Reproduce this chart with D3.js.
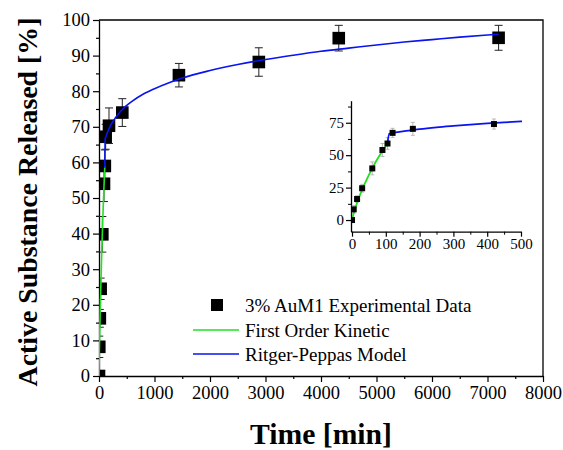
<!DOCTYPE html>
<html>
<head>
<meta charset="utf-8">
<script src="https://cdn.jsdelivr.net/npm/d3@7"></script>
<style>
  html, body { margin: 0; padding: 0; background: #fff; }
  svg { display: block; }
</style>
</head>
<body>
<svg id="chart" width="563" height="450"></svg>
<script>
// Release measurements: time (min), released amount (%), standard deviation
const times    = [0, 5, 15, 30, 60, 90, 105, 120, 180, 420, 1440, 2880, 4320, 7200];
const released = [0, 8.2, 16.2, 24.5, 39.8, 54.0, 59.0, 67.2, 70.3, 74.0, 84.5, 88.2, 94.9, 95.0];
const stdDev   = [0.5, 3, 2.5, 3, 5, 5, 4.5, 3.5, 5, 3.9, 3.3, 4, 3.6, 3.5];

// First order kinetic fit curve (time, %)
const firstOrderT = [0, 5, 10, 15, 20, 30, 40, 50, 60, 70, 80, 90, 100, 105];
const firstOrderQ = [0, 5.5, 9.5, 13.5, 17.0, 23.5, 29.2, 34.8, 39.8, 44.7, 49.2, 53.3, 57.1, 58.9];

// Ritger-Peppas fit curve (time, %)
const peppasT = [105, 110, 120, 140, 160, 180, 200, 250, 300, 350, 400, 450, 500, 600, 800, 1000,
                 1250, 1500, 2000, 2500, 3000, 3500, 4000, 4500, 5000, 5500, 6000, 6500, 7000, 7200];
const peppasQ = [58.5, 66.5, 67.0, 67.9, 68.7, 69.4, 70.1, 71.5, 72.6, 73.6, 74.5, 75.3, 76.0, 77.2, 79.2, 80.7,
                 82.3, 83.7, 85.8, 87.5, 88.9, 90.1, 91.2, 92.1, 93.0, 93.8, 94.5, 95.2, 95.8, 96.0];

const xTicksMain = [0, 1000, 2000, 3000, 4000, 5000, 6000, 7000, 8000];
const yTicksMain = [0, 10, 20, 30, 40, 50, 60, 70, 80, 90, 100];
const xTicksInset = [0, 100, 200, 300, 400, 500];
const yTicksInset = [0, 25, 50, 75];

const legendLabels = ["3% AuM1 Experimental Data", "First Order Kinetic", "Ritger-Peppas Model"];

const FONT = "'Liberation Serif', 'Times New Roman', 'DejaVu Serif', serif";
const GREEN = "#22e022";
const BLUE = "#0a14ee";

const svg = d3.select("#chart");
const pts = times.map((t, i) => ({ t, q: released[i], e: stdDev[i] }));
const fo = firstOrderT.map((t, i) => ({ t, q: firstOrderQ[i] }));
const rp = peppasT.map((t, i) => ({ t, q: peppasQ[i] }));

// ---------- main panel ----------
const L = 99, R = 543, T = 20, B = 376;
const x = d3.scaleLinear().domain([0, 8000]).range([L, R]);
const y = d3.scaleLinear().domain([0, 100]).range([B, T]);

svg.append("defs").append("clipPath").attr("id", "plotClip")
  .append("rect").attr("x", L).attr("y", T).attr("width", R - L).attr("height", B - T);

function styleAxis(g, fontSize) {
  g.attr("font-family", FONT);
  g.select(".domain").attr("stroke", "#000").attr("stroke-width", 1.3);
  g.selectAll(".tick line").attr("stroke", "#000").attr("stroke-width", 1.2);
  g.selectAll(".tick text").style("font-size", fontSize + "px").style("font-family", FONT).attr("fill", "#000");
}

// minor ticks
svg.append("g").attr("transform", `translate(0,${B})`)
  .call(d3.axisBottom(x).tickValues(d3.range(500, 8000, 1000)).tickSize(3).tickFormat(""))
  .call(g => { g.select(".domain").remove(); g.selectAll("line").attr("stroke", "#000").attr("stroke-width", 1.2); });
svg.append("g").attr("transform", `translate(${L},0)`)
  .call(d3.axisLeft(y).tickValues(d3.range(5, 100, 10)).tickSize(3).tickFormat(""))
  .call(g => { g.select(".domain").remove(); g.selectAll("line").attr("stroke", "#000").attr("stroke-width", 1.2); });

svg.append("g").attr("transform", `translate(0,${B})`)
  .call(d3.axisBottom(x).tickValues(xTicksMain).tickSize(6).tickSizeOuter(0).tickPadding(4).tickFormat(d3.format("d")))
  .call(g => styleAxis(g, 18.5));
svg.append("g").attr("transform", `translate(${L},0)`)
  .call(d3.axisLeft(y).tickValues(yTicksMain).tickSize(6).tickSizeOuter(0).tickPadding(3).tickFormat(d3.format("d")))
  .call(g => styleAxis(g, 18.5));

// top and right frame
svg.append("path")
  .attr("d", `M${L},${T}H${R}V${B}`)
  .attr("fill", "none").attr("stroke", "#000").attr("stroke-width", 1.3);

const mainLayer = svg.append("g").attr("clip-path", "url(#plotClip)");
const line = (xs, ys) => d3.line().x(d => xs(d.t)).y(d => ys(d.q)).curve(d3.curveMonotoneX);

// error bars
const eb = mainLayer.append("g").attr("stroke", "#222").attr("stroke-width", 1);
pts.forEach(d => {
  const cx = x(d.t);
  eb.append("line").attr("x1", cx).attr("x2", cx).attr("y1", y(d.q - d.e)).attr("y2", y(d.q + d.e));
  [d.q - d.e, d.q + d.e].forEach(v =>
    eb.append("line").attr("x1", cx - 4).attr("x2", cx + 4).attr("y1", y(v)).attr("y2", y(v)));
});

mainLayer.selectAll("rect.pt").data(pts).join("rect").attr("class", "pt")
  .attr("x", d => x(d.t) - 6.3).attr("y", d => y(d.q) - 6.3)
  .attr("width", 12.6).attr("height", 12.6).attr("fill", "#000");

mainLayer.append("path").datum(fo).attr("d", line(x, y))
  .attr("fill", "none").attr("stroke", GREEN).attr("stroke-width", 1.6);
mainLayer.append("path").datum(rp).attr("d", line(x, y))
  .attr("fill", "none").attr("stroke", BLUE).attr("stroke-width", 1.6);

// axis titles, sized to span their intended lengths
function fitTitle(sel, targetLen) {
  const len = sel.node().getComputedTextLength();
  const fs = parseFloat(sel.style("font-size"));
  sel.style("font-size", (fs * targetLen / len).toFixed(2) + "px");
}
const xTitle = svg.append("text").attr("x", 321).attr("y", 444).attr("text-anchor", "middle")
  .style("font-family", FONT).style("font-size", "28px").style("font-weight", "bold").text("Time [min]");
fitTitle(xTitle, 142);
const yTitle = svg.append("text").attr("transform", "translate(37,202) rotate(-90)").attr("text-anchor", "middle")
  .style("font-family", FONT).style("font-size", "28px").style("font-weight", "bold").text("Active Substance Released [%]");
fitTitle(yTitle, 369);

// legend
const lg = svg.append("g");
lg.append("rect").attr("x", 211).attr("y", 299).attr("width", 12).attr("height", 12).attr("fill", "#000");
lg.append("line").attr("x1", 193).attr("x2", 239).attr("y1", 330).attr("y2", 330).attr("stroke", GREEN).attr("stroke-width", 1.4);
lg.append("line").attr("x1", 193).attr("x2", 239).attr("y1", 354).attr("y2", 354).attr("stroke", BLUE).attr("stroke-width", 1.4);
[311.5, 336.5, 360.5].forEach((by, i) =>
  lg.append("text").attr("x", 245).attr("y", by)
    .style("font-family", FONT).style("font-size", "19px").text(legendLabels[i]));

// ---------- inset ----------
const xi = d3.scaleLinear().domain([-3, 500]).range([351, 521]);
const yi = d3.scaleLinear().domain([-9, 92]).range([231.7, 100.7]);

svg.append("defs").append("clipPath").attr("id", "insetClip")
  .append("rect").attr("x", 351).attr("y", 100).attr("width", 171).attr("height", 132);

svg.append("g").attr("transform", "translate(0,231.7)")
  .call(d3.axisBottom(xi).tickValues(d3.range(50, 500, 100)).tickSize(3).tickFormat(""))
  .call(g => { g.select(".domain").remove(); g.selectAll("line").attr("stroke", "#000"); });
svg.append("g").attr("transform", "translate(351,0)")
  .call(d3.axisLeft(yi).tickValues([12.5, 37.5, 62.5, 87.5]).tickSize(3).tickFormat(""))
  .call(g => { g.select(".domain").remove(); g.selectAll("line").attr("stroke", "#000"); });

svg.append("g").attr("transform", "translate(0,231.7)")
  .call(d3.axisBottom(xi).tickValues(xTicksInset).tickSize(5).tickSizeOuter(0).tickPadding(2).tickFormat(d3.format("d")))
  .call(g => styleAxis(g, 15));
svg.append("g").attr("transform", "translate(351,0)")
  .call(d3.axisLeft(yi).tickValues(yTicksInset).tickSize(5).tickSizeOuter(0).tickPadding(2).tickFormat(d3.format("d")))
  .call(g => styleAxis(g, 15));

const inset = svg.append("g").attr("clip-path", "url(#insetClip)");
const ebi = inset.append("g").attr("stroke", "#aaa").attr("stroke-width", 0.8);
pts.filter(d => d.t <= 500).forEach(d => {
  const cx = xi(d.t);
  ebi.append("line").attr("x1", cx).attr("x2", cx).attr("y1", yi(d.q - d.e)).attr("y2", yi(d.q + d.e));
  [d.q - d.e, d.q + d.e].forEach(v =>
    ebi.append("line").attr("x1", cx - 2).attr("x2", cx + 2).attr("y1", yi(v)).attr("y2", yi(v)));
});
inset.append("path").datum(fo).attr("d", line(xi, yi))
  .attr("fill", "none").attr("stroke", GREEN).attr("stroke-width", 1.8);
inset.append("path").datum(rp.filter(d => d.t <= 600)).attr("d", line(xi, yi))
  .attr("fill", "none").attr("stroke", BLUE).attr("stroke-width", 1.8);
inset.selectAll("rect.pt").data(pts.filter(d => d.t <= 500)).join("rect").attr("class", "pt")
  .attr("x", d => xi(d.t) - 3).attr("y", d => yi(d.q) - 3)
  .attr("width", 6).attr("height", 6).attr("fill", "#000");
</script>
</body>
</html>
